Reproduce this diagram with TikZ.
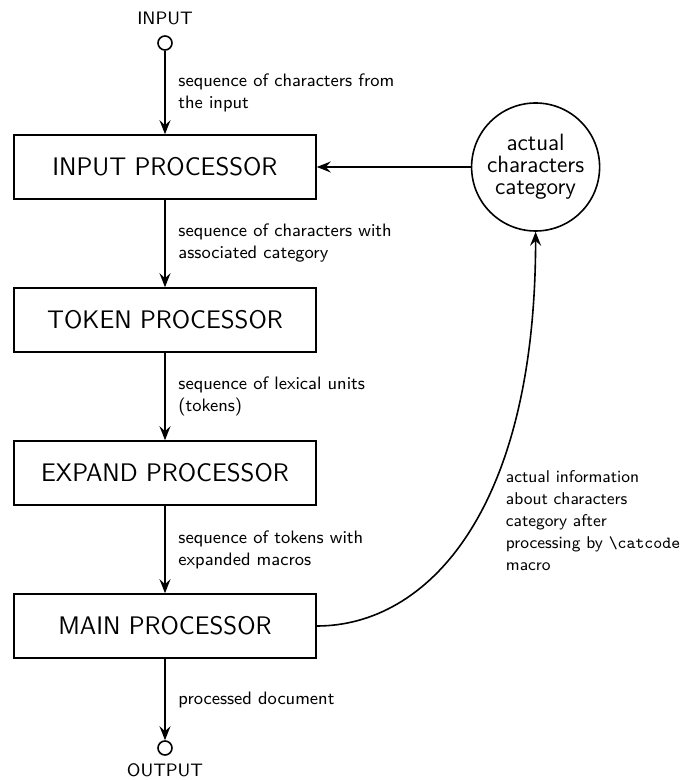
\documentclass[tikz,border=0pt]{standalone}
\usepackage{amsmath}
\usepackage{tikz}
\usetikzlibrary{arrows.meta, positioning}
\usetikzlibrary{shapes}

\begin{document}
\begin{tikzpicture}[
    node distance=43.7pt,
    every node/.style={font=\sffamily\small},
    procnode/.style={
        rectangle,
        draw=black,
        thick,
        minimum width=151pt,
        minimum height=32pt,
        font=\sffamily\fontsize{12.7pt}{15pt}\selectfont,
        align=center
    },
    termnode/.style={
        circle,
        draw=black,
        thick,
        minimum size=7pt,
        inner sep=0pt
    },
    catnode/.style={
        circle,
        draw=black,
        thick,
        minimum size=64pt,
        inner sep=0pt,
        font=\sffamily\fontsize{11.8pt}{11pt}\selectfont,
        align=center
    },
    flowlabel/.style={right=3pt, midway, align=left}
]

\useasboundingbox (-82.5pt,83.5pt) rectangle (259.5pt,-306.5pt);

\node[procnode] (inproc) {INPUT PROCESSOR};
\node[procnode, below=of inproc] (tokproc) {TOKEN PROCESSOR};
\node[procnode, below=of tokproc] (expproc) {EXPAND PROCESSOR};
\node[procnode, below=of expproc] (mainproc) {MAIN PROCESSOR};

\node[termnode, above=41.7pt of inproc, label={[label distance=1.5pt]above:INPUT}]
    (input) {};
\node[termnode, below=40.7pt of mainproc, label={[label distance=0.5pt]below:OUTPUT}]
    (output) {};

\node[catnode, right=77pt of inproc] (category)
    {actual\\characters\\category};


\draw[-{Stealth[length=7pt, width=5.5pt, inset=2.5pt]}, thick] (input) -- (inproc)
    node[flowlabel] {sequence of characters from\\the input};
\draw[-{Stealth[length=7pt, width=5.5pt, inset=2.5pt]}, thick] (inproc) -- (tokproc)
    node[flowlabel] {sequence of characters with\\associated category};
\draw[-{Stealth[length=7pt, width=5.5pt, inset=2.5pt]}, thick] (tokproc) -- (expproc)
    node[flowlabel] {sequence of lexical units\\(tokens)};
\draw[-{Stealth[length=7pt, width=5.5pt, inset=2.5pt]}, thick] (expproc) -- (mainproc)
    node[flowlabel] {sequence of tokens with\\expanded macros};
\draw[-{Stealth[length=7pt, width=5.5pt, inset=2.5pt]}, thick] (mainproc) -- (output)
    node[flowlabel] {processed document};
\draw[-{Stealth[length=7pt, width=5.5pt, inset=2.5pt]}, thick] (category) -- (inproc);
\draw[-{Stealth[length=7pt, width=5.5pt, inset=2.5pt]}, thick] (mainproc.east)
    .. controls +(right:55pt) and +(down:140pt) .. (category.south)
    node[pos=0.5, anchor=west, xshift=15.5pt, yshift=6.5pt, align=left,
        font=\sffamily\fontsize{8.5pt}{11pt}\selectfont]
    {actual information\\about characters\\category after\\processing by \texttt{\textbackslash catcode}\\macro};

\end{tikzpicture}
\end{document}
